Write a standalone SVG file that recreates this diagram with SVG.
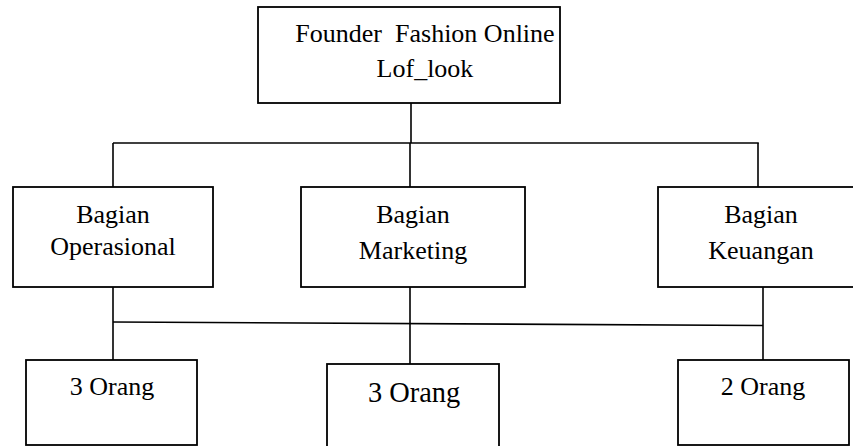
<svg xmlns="http://www.w3.org/2000/svg" width="853" height="446" viewBox="0 0 853 446">
<style>
.box{fill:#fff;stroke:#000;stroke-width:1.8}
.ln{fill:none;stroke:#000;stroke-width:1.6}
.t{font-family:'Liberation Serif','Times New Roman','DejaVu Serif',serif;font-size:26px;fill:#000;text-anchor:middle;white-space:pre}
</style>
<rect width="853" height="446" fill="#fff"/>
<g id="connectors">
<line class="ln" x1="411" y1="103" x2="411" y2="143"/>
<line class="ln" x1="113" y1="143" x2="758.8" y2="143"/>
<line class="ln" x1="113" y1="143" x2="113" y2="187"/>
<line class="ln" x1="410" y1="143" x2="410" y2="187"/>
<line class="ln" x1="758" y1="143" x2="758" y2="187"/>
<line class="ln" x1="113" y1="287" x2="113" y2="360"/>
<line class="ln" x1="410" y1="287" x2="410" y2="364"/>
<line class="ln" x1="763" y1="287" x2="763" y2="360"/>
<line class="ln" x1="113" y1="322" x2="763" y2="325.5"/>
</g>
<g id="founder">
<rect class="box" x="258" y="7" width="302" height="96"/>
<text class="t" x="425" y="42" xml:space="preserve">Founder  Fashion Online</text>
<text class="t" x="425" y="77">Lof_look</text>
</g>
<g id="operasional">
<rect class="box" x="13" y="187" width="200" height="100"/>
<text class="t" x="113" y="223">Bagian</text>
<text class="t" x="113" y="255">Operasional</text>
</g>
<g id="marketing">
<rect class="box" x="301" y="187" width="224" height="100"/>
<text class="t" x="413" y="223">Bagian</text>
<text class="t" x="413" y="259">Marketing</text>
</g>
<g id="keuangan">
<rect class="box" x="658" y="187" width="198" height="100"/>
<text class="t" x="761" y="223">Bagian</text>
<text class="t" x="761" y="259">Keuangan</text>
</g>
<g id="orang1">
<rect class="box" x="26" y="360" width="171" height="85"/>
<text class="t" x="112" y="395">3 Orang</text>
</g>
<g id="orang2">
<rect class="box" x="327" y="364" width="172" height="85"/>
<text class="t" x="414" y="402" style="font-size:28.4px">3 Orang</text>
</g>
<g id="orang3">
<rect class="box" x="678" y="360" width="171" height="85"/>
<text class="t" x="763" y="395">2 Orang</text>
</g>
</svg>
